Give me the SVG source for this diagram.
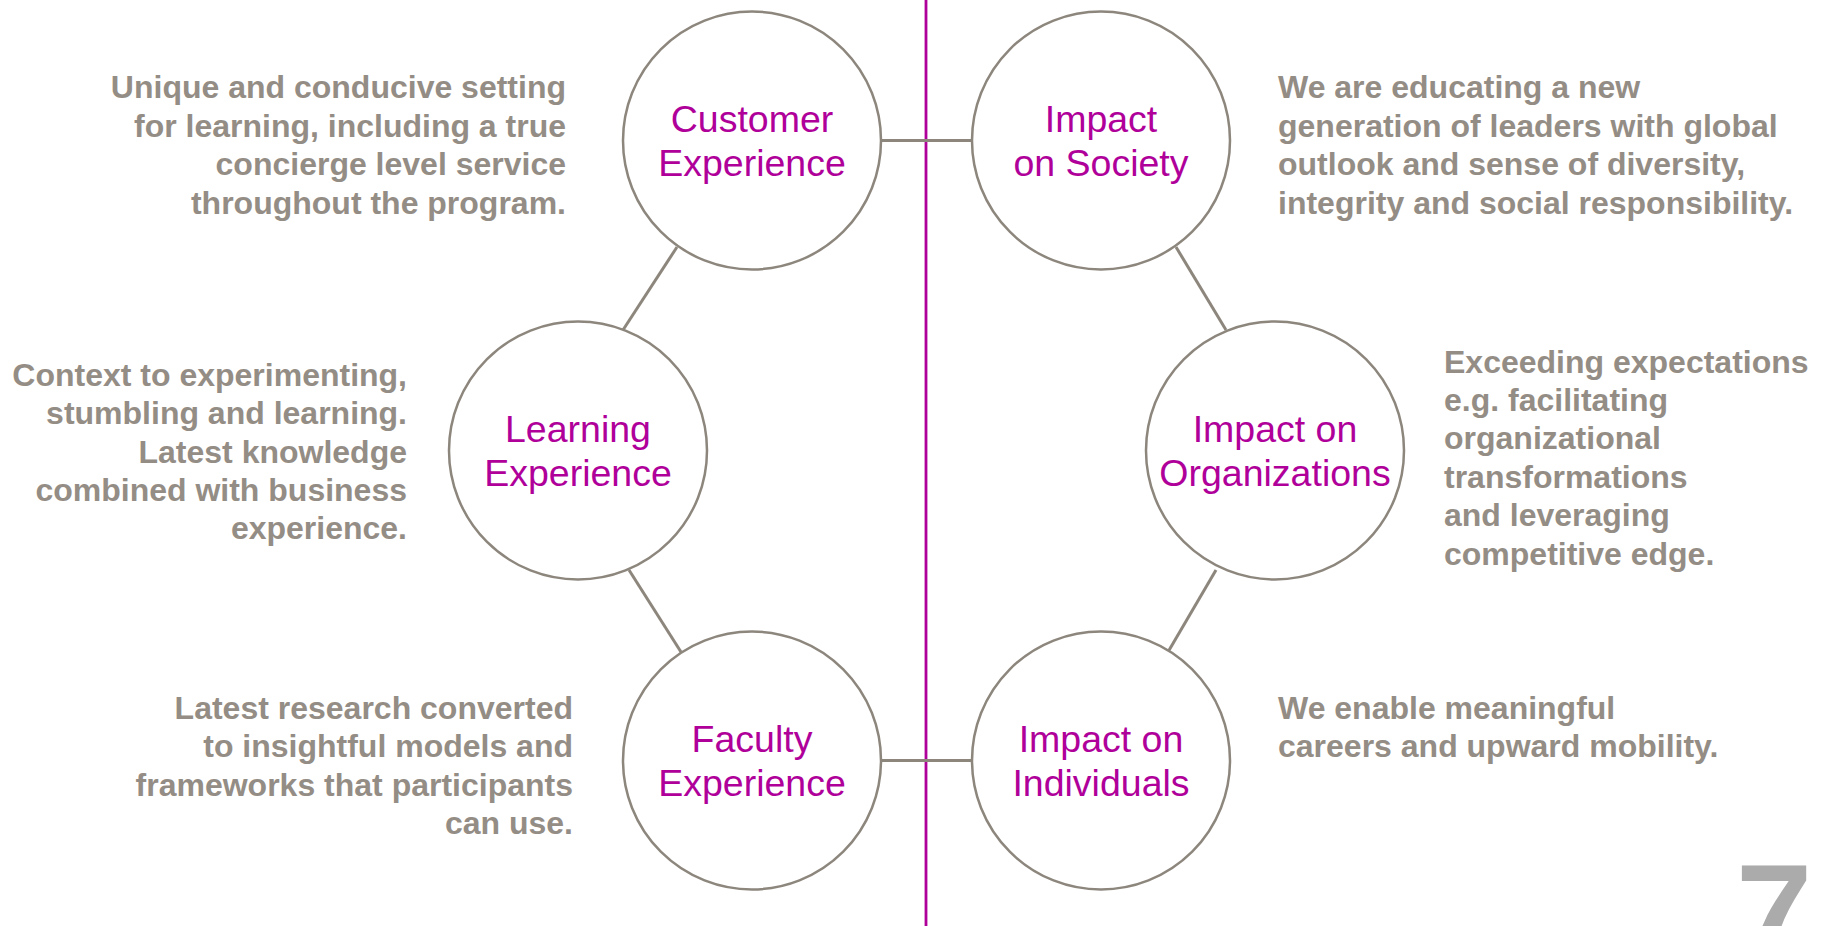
<svg xmlns="http://www.w3.org/2000/svg" width="1825" height="926" viewBox="0 0 1825 926">
<style>
.node circle{fill:#ffffff;stroke:#8C867D;stroke-width:2.5}
.lbl{font-family:"Liberation Sans",Arial,sans-serif;font-size:37.5px;fill:#B0009A;text-anchor:middle}
.desc{font-family:"Liberation Sans",Arial,sans-serif;font-size:32px;font-weight:bold;fill:#948D85}
.r{text-anchor:end}
.conn line{stroke:#8C867D;stroke-width:3}
</style>
<rect width="1825" height="926" fill="#ffffff"/>
<line x1="926" y1="0" x2="926" y2="926" stroke="#B0009A" stroke-width="2.8"/>
<g id="connectors" class="conn">
<line x1="882" y1="140.5" x2="973" y2="140.5"/>
<line x1="882" y1="760.5" x2="973" y2="760.5"/>
<line x1="677" y1="247" x2="623" y2="330"/>
<line x1="629" y1="570" x2="681" y2="652"/>
<line x1="1176" y1="247" x2="1226" y2="330"/>
<line x1="1216" y1="570" x2="1168" y2="652"/>
</g>
<g id="customer-experience" class="node">
<circle cx="752" cy="140.5" r="129"/>
<text class="lbl" x="752" y="131.5">Customer</text>
<text class="lbl" x="752" y="176">Experience</text>
</g>
<g id="learning-experience" class="node">
<circle cx="578" cy="450.5" r="129"/>
<text class="lbl" x="578" y="441.5">Learning</text>
<text class="lbl" x="578" y="486">Experience</text>
</g>
<g id="faculty-experience" class="node">
<circle cx="752" cy="760.5" r="129"/>
<text class="lbl" x="752" y="751.5">Faculty</text>
<text class="lbl" x="752" y="796">Experience</text>
</g>
<g id="impact-society" class="node">
<circle cx="1101" cy="140.5" r="129"/>
<text class="lbl" x="1101" y="131.5">Impact</text>
<text class="lbl" x="1101" y="176">on Society</text>
</g>
<g id="impact-organizations" class="node">
<circle cx="1275" cy="450.5" r="129"/>
<text class="lbl" x="1275" y="441.5">Impact on</text>
<text class="lbl" x="1275" y="486">Organizations</text>
</g>
<g id="impact-individuals" class="node">
<circle cx="1101" cy="760.5" r="129"/>
<text class="lbl" x="1101" y="751.5">Impact on</text>
<text class="lbl" x="1101" y="796">Individuals</text>
</g>
<g id="desc-customer">
<text class="desc r" x="566" y="98">Unique and conducive setting</text>
<text class="desc r" x="566" y="136.5">for learning, including a true</text>
<text class="desc r" x="566" y="175">concierge level service</text>
<text class="desc r" x="566" y="213.5">throughout the program.</text>
</g>
<g id="desc-learning">
<text class="desc r" x="407" y="386">Context to experimenting,</text>
<text class="desc r" x="407" y="424.3">stumbling and learning.</text>
<text class="desc r" x="407" y="462.6">Latest knowledge</text>
<text class="desc r" x="407" y="500.9">combined with business</text>
<text class="desc r" x="407" y="539.2">experience.</text>
</g>
<g id="desc-faculty">
<text class="desc r" x="573" y="719">Latest research converted</text>
<text class="desc r" x="573" y="757.4">to insightful models and</text>
<text class="desc r" x="573" y="795.8">frameworks that participants</text>
<text class="desc r" x="573" y="834.2">can use.</text>
</g>
<g id="desc-society">
<text class="desc" x="1278" y="98">We are educating a new</text>
<text class="desc" x="1278" y="136.5">generation of leaders with global</text>
<text class="desc" x="1278" y="175">outlook and sense of diversity,</text>
<text class="desc" x="1278" y="213.5">integrity and social responsibility.</text>
</g>
<g id="desc-organizations">
<text class="desc" x="1444" y="372.5">Exceeding expectations</text>
<text class="desc" x="1444" y="410.9">e.g. facilitating</text>
<text class="desc" x="1444" y="449.3">organizational</text>
<text class="desc" x="1444" y="487.7">transformations</text>
<text class="desc" x="1444" y="526.1">and leveraging</text>
<text class="desc" x="1444" y="564.5">competitive edge.</text>
</g>
<g id="desc-individuals">
<text class="desc" x="1278" y="719">We enable meaningful</text>
<text class="desc" x="1278" y="757.4">careers and upward mobility.</text>
</g>
<text x="1736" y="960" font-family="'Liberation Sans',Arial,sans-serif" font-size="137" font-weight="bold" fill="#ABABAB">7</text>
</svg>
